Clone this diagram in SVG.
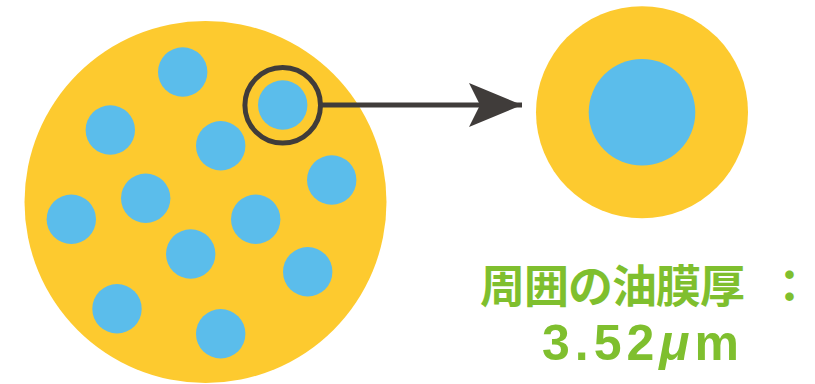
<svg xmlns="http://www.w3.org/2000/svg" width="815" height="384" viewBox="0 0 815 384">
<style>
.oil{fill:#fdca2f}
.drop{fill:#5bbdeb}
.lbl{fill:#7fbf2e;font-weight:bold}
.cjk{font-family:"Noto Sans CJK JP","Noto Sans CJK SC",sans-serif;font-size:45px}
.num{font-family:"Liberation Sans",Arial,sans-serif;font-size:50px;letter-spacing:5px}
</style>
<defs>
<marker id="ah" markerUnits="userSpaceOnUse" markerWidth="56" markerHeight="46" refX="53" refY="22" orient="auto">
<polygon points="53,22 0,0 11,22 0,44" fill="#403c3a"/>
</marker>
</defs>
<g id="emulsion">
<circle class="oil" cx="205.5" cy="202" r="181"/>
<circle class="drop" cx="182.7" cy="72" r="24.7"/>
<circle class="drop" cx="110.3" cy="130" r="24.7"/>
<circle class="drop" cx="282.7" cy="105" r="24.7"/>
<circle class="drop" cx="220.7" cy="145.7" r="24.7"/>
<circle class="drop" cx="331.7" cy="180" r="24.7"/>
<circle class="drop" cx="145.7" cy="198.3" r="24.7"/>
<circle class="drop" cx="71.3" cy="219.3" r="24.7"/>
<circle class="drop" cx="255.7" cy="219.3" r="24.7"/>
<circle class="drop" cx="190.7" cy="254" r="24.7"/>
<circle class="drop" cx="307.7" cy="271.7" r="24.7"/>
<circle class="drop" cx="117" cy="308.7" r="24.7"/>
<circle class="drop" cx="220.7" cy="333.7" r="24.7"/>
</g>
<g id="magnifier">
<circle cx="282.7" cy="105.3" r="37.8" fill="none" stroke="#403c3a" stroke-width="5"/>
</g>
<g id="connectors">
<line x1="320.5" y1="105" x2="522" y2="105" stroke="#403c3a" stroke-width="5" marker-end="url(#ah)"/>
</g>
<g id="droplet">
<circle class="oil" cx="642" cy="112.3" r="106"/>
<circle class="drop" cx="642" cy="112.3" r="53.3"/>
</g>
<g id="label">
<text class="lbl cjk" x="480" y="303" letter-spacing="-1">周囲の油膜厚<tspan x="767">：</tspan></text>
<text class="lbl num" x="542" y="360">3.52<tspan font-style="italic">μ</tspan>m</text>
</g>
</svg>
